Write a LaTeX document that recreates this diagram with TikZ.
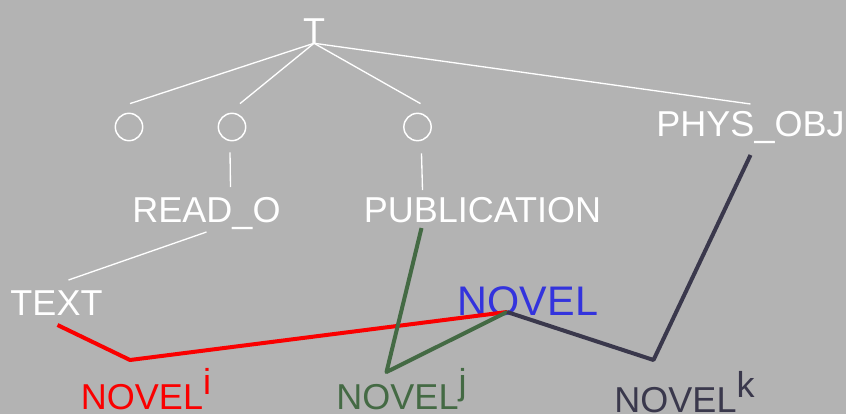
\documentclass[tikz,border=0pt]{standalone}
\usepackage{fontspec}
\setmainfont{Liberation Sans}
\usetikzlibrary{positioning}
\definecolor{bggray}{RGB}{179,179,179}
\definecolor{senseblue}{RGB}{51,51,221}
\definecolor{sensered}{RGB}{250,0,0}
\definecolor{sensegreen}{RGB}{68,106,68}
\definecolor{sensedark}{RGB}{58,56,76}
\newcommand{\sensesup}[1]{\raisebox{11.25pt}{#1}}

\begin{document}
\begin{tikzpicture}[
      x=0.75pt, y=-0.75pt,
      lbl/.style={anchor=base, inner sep=0pt, text=white, font=\fontsize{27}{32}\selectfont},
      circ/.style={circle, draw=white, line width=1.1pt, minimum size=20.5pt, inner sep=0pt},
      link/.style={draw=white, line width=1pt},
      sense/.style={line width=3pt, line join=round}
    ]
    \path[use as bounding box, fill=bggray] (0,0) rectangle (846,414);

    % TOP OF THE LATTICE
    \node[lbl] (top) at (314,43) {T};
    \node[circ] (circa) at (129,127) {};
    \node[circ] (circb) at (232,127) {};
    \node[circ] (circc) at (417.5,127) {};
    \node[lbl] (phys) at (750.5,136) {PHYS\_OBJ};

    % SECOND ROW
    \node[lbl] (reado) at (206.5,222) {READ\_O};
    \node[lbl] (publ) at (482.5,222) {PUBLICATION};
    \node[lbl] (text) at (56.5,315) {TEXT};
    \node[lbl, text=senseblue, font=\fontsize{31}{36}\selectfont] (novel) at (528,315) {NOVEL};

    % SENSES
    \node[lbl, text=sensered] (novi) at (146,409) {NOVEL\sensesup{i}};
    \node[lbl, text=sensegreen] (novj) at (401.5,409) {NOVEL\sensesup{j}};
    \node[lbl, text=sensedark] (novk) at (684.5,412) {NOVEL\sensesup{k}};

    \coordinate (hub) at ([shift={(-21,-3)}]novel.base);
    \coordinate (bendi) at ([shift={(-16,-49)}]novi.base);
    \coordinate (bendj) at ([shift={(-15,-37)}]novj.base);
    \coordinate (bendk) at ([shift={(-31,-52)}]novk.base);

    %%% WHITE LATTICE
    \draw[link] (top.south) -- ([shift={(1,-9)}]circa.north);
    \draw[link] (top.south) -- ([shift={(8,-9)}]circb.north);
    \draw[link] (top.south) -- ([shift={(3,-9)}]circc.north);
    \draw[link] (top.south) -- ([shift={(0,-32)}]phys.base);
    \draw[link] ([shift={(-2,11)}]circb.south) -- ([shift={(24,-35)}]reado.base);
    \draw[link] ([shift={(4,12)}]circc.south) -- ([shift={(-60,-32)}]publ.base);
    \draw[link] ([shift={(0,10)}]reado.base) -- ([shift={(12,-35)}]text.base);

    %%% SENSE LINKS
    \draw[sense, sensered] ([shift={(1,10)}]text.base) -- (bendi) -- (hub);
    \draw[sense, sensegreen] ([shift={(-61,6)}]publ.base) -- (bendj) -- (hub);
    \draw[sense, sensedark] (hub) -- (bendk) -- ([shift={(0,19)}]phys.base);
    \end{tikzpicture}
\end{document}
